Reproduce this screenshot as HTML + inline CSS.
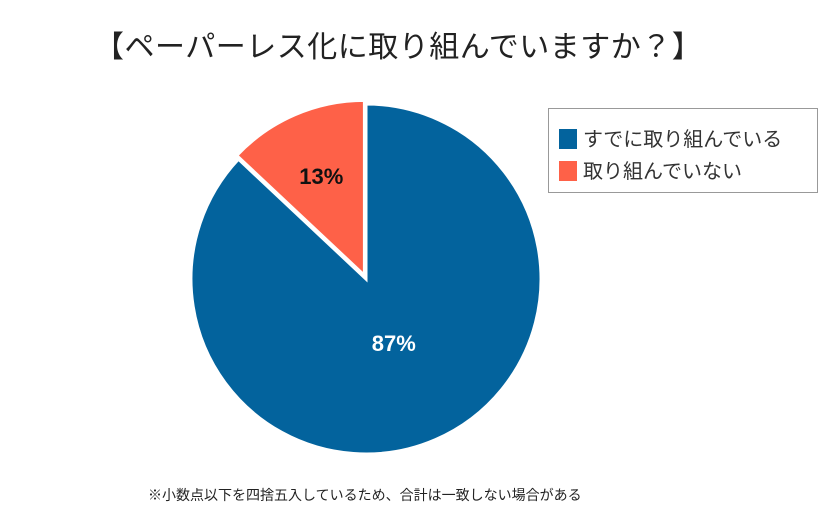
<!DOCTYPE html>
<html><head><meta charset="utf-8"><style>
body{margin:0;background:#fff;font-family:"Liberation Sans","Noto Sans CJK JP",sans-serif;}
#wrap{position:relative;width:840px;height:529px;overflow:hidden;background:#fff}
.t{position:absolute;white-space:nowrap}
</style></head><body>
<div id="wrap">
<div class="t" style="left:94px;top:22px;font-size:30px;color:#222;letter-spacing:0.5px">【ペーパーレス化に取り組んでいますか？】</div>
<svg id="pie" width="840" height="529" style="position:absolute;left:0;top:0"></svg>
<div style="position:absolute;left:548px;top:108px;width:270px;height:85px;border:1px solid #999;box-sizing:border-box;background:#fff">
 <div style="position:absolute;left:10px;top:14px;font-size:20px;color:#333;white-space:nowrap"><span style="display:inline-block;width:18px;height:20px;background:#03639d;vertical-align:-3px;margin-right:6px"></span>すでに取り組んでいる</div>
 <div style="position:absolute;left:10px;top:46px;font-size:20px;color:#333;white-space:nowrap"><span style="display:inline-block;width:18px;height:20px;background:#fe6148;vertical-align:-3px;margin-right:6px"></span>取り組んでいない</div>
</div>
<div class="t" style="left:148px;top:485px;font-size:14px;color:#222">※小数点以下を四捨五入しているため、合計は一致しない場合がある</div>
</div>
<script>
const categories=["すでに取り組んでいる","取り組んでいない"];
const values=[87,13];
const labels=["87%","13%"];
const colors=["#03639d","#fe6148"];
const labelColors=["#fff","#111"];
const svg=document.getElementById('pie');
const NS="http://www.w3.org/2000/svg";
const cx=366,cy=279,r=175;
const total=values.reduce((a,b)=>a+b,0);
// start so the last slice ends at 12 o'clock (clockwise)
let a=0;
values.forEach((v,i)=>{
  const sweep=v/total*2*Math.PI;
  const a0=a,a1=a+sweep;a=a1;
  const mid=(a0+a1)/2;
  const off=i===values.length-1?4:0;
  const ox=cx+off*Math.sin(mid),oy=cy-off*Math.cos(mid);
  const x0=ox+r*Math.sin(a0),y0=oy-r*Math.cos(a0);
  const x1=ox+r*Math.sin(a1),y1=oy-r*Math.cos(a1);
  const p=document.createElementNS(NS,'path');
  p.setAttribute('d',`M${ox},${oy}L${x0},${y0}A${r},${r} 0 ${sweep>Math.PI?1:0} 1 ${x1},${y1}Z`);
  p.setAttribute('fill',colors[i]);
  p.setAttribute('stroke','#fff');
  p.setAttribute('stroke-width','3');
  
  
  svg.appendChild(p);
  const lr=i===values.length-1?r*0.62:r*0.4;
  const t=document.createElementNS(NS,'text');
  t.setAttribute('x',ox+lr*Math.sin(mid));
  t.setAttribute('y',oy-lr*Math.cos(mid)+8);
  t.setAttribute('text-anchor','middle');
  t.setAttribute('font-size','22');
  t.setAttribute('font-weight','bold');
  t.setAttribute('fill',labelColors[i]);
  t.setAttribute('font-family','"Liberation Sans",sans-serif');
  
  
  t.textContent=labels[i];
  svg.appendChild(t);
});
</script>
</body></html>
